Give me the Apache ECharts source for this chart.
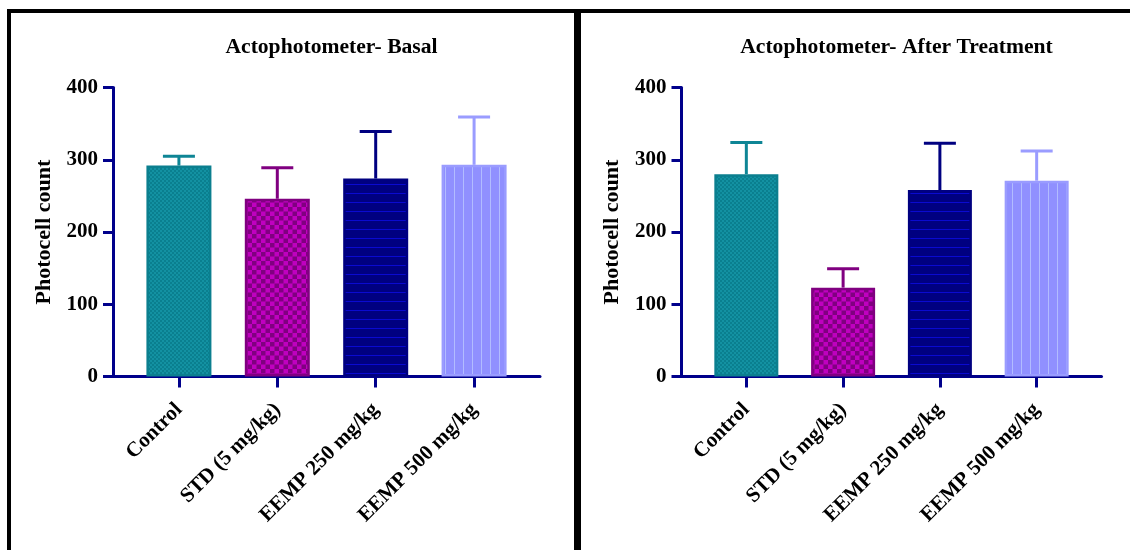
<!DOCTYPE html>
<html>
<head>
<meta charset="utf-8">
<script src="https://cdn.jsdelivr.net/npm/echarts@6/dist/echarts.min.js"></script>
<style>
html,body{margin:0;padding:0;background:#fff;}
#chart{width:1130px;height:550px;}
</style>
</head>
<body>
<div id="chart"></div>
<script>
// ---- data ----
const categories = ['Control', 'STD (5 mg/kg)', 'EEMP 250 mg/kg', 'EEMP 500 mg/kg'];
const basalMean = [292, 246, 274, 293];
const basalSD = [13, 43, 65, 66];
const afterMean = [280, 123, 258, 271];
const afterSD = [44, 26, 65, 41];
const titles = ['Actophotometer- Basal', 'Actophotometer- After Treatment'];
const yAxisName = 'Photocell count';
const yMin = 0, yMax = 400, yStep = 100;

// ---- patterns ----
function makeCanvas(w, h, draw) {
  const c = document.createElement('canvas');
  c.width = w; c.height = h;
  draw(c.getContext('2d'));
  return c;
}
const tealPat = makeCanvas(4, 4, g => {
  g.fillStyle = '#1391a2'; g.fillRect(0, 0, 4, 4);
  g.fillStyle = '#0a7f8f'; g.fillRect(0, 0, 2, 2); g.fillRect(2, 2, 2, 2);
});
const magPat = makeCanvas(9, 9, g => {
  g.fillStyle = '#c000c0'; g.fillRect(0, 0, 9, 9);
  g.fillStyle = '#800080'; g.fillRect(0, 0, 4.5, 4.5); g.fillRect(4.5, 4.5, 4.5, 4.5);
});
const navyPat = makeCanvas(4, 9, g => {
  g.fillStyle = '#000080'; g.fillRect(0, 0, 4, 9);
  g.fillStyle = '#0a0ad0'; g.fillRect(0, 4, 4, 1);
});
const periPat = makeCanvas(9, 4, g => {
  g.fillStyle = '#9090ff'; g.fillRect(0, 0, 9, 4);
  g.fillStyle = '#b2bcff'; g.fillRect(4, 0, 1, 4);
});
const fills = [tealPat, magPat, navyPat, periPat];
const borders = ['#0b7f8f', '#800080', '#000080', '#9a9cff'];
const errColors = ['#0e8595', '#800080', '#000080', '#9a9cff'];

const axisColor = '#00008b';
const font = 'Liberation Serif';

const grids = [
  { left: 113, top: 87.5, width: 427, height: 289 },
  { left: 681.5, top: 87.5, width: 420, height: 289 }
];
const barWidths = [65, 64];

function barData(means) {
  return means.map((v, i) => ({
    value: [i, v],
    itemStyle: {
      color: { image: fills[i], repeat: 'repeat' },
      borderColor: borders[i],
      borderWidth: 2.5
    }
  }));
}
function errData(means, sds) {
  return means.map((v, i) => [i, v, sds[i]]);
}
function errRender(params, api) {
  const x = api.value(0), m = api.value(1), e = api.value(2);
  const p0 = api.coord([x, m]);
  const p1 = api.coord([x, m + e]);
  const hw = 16;
  const col = errColors[params.dataIndex];
  return {
    type: 'group',
    children: [
      { type: 'line', shape: { x1: p0[0], y1: p0[1], x2: p1[0], y2: p1[1] }, style: { stroke: col, lineWidth: 3 } },
      { type: 'line', shape: { x1: p1[0] - hw, y1: p1[1], x2: p1[0] + hw, y2: p1[1] }, style: { stroke: col, lineWidth: 3 } }
    ]
  };
}

const xAxes = [0, 1].map(k => ({
  type: 'value', gridIndex: k, min: -0.67, max: 3.67,
  splitLine: { show: false },
  axisLine: { show: true, onZero: false, lineStyle: { color: axisColor, width: 3 } },
  axisTick: { show: true, customValues: [0, 1, 2, 3], length: 11, lineStyle: { color: axisColor, width: 3 } },
  axisLabel: {
    customValues: [0, 1, 2, 3],
    formatter: v => categories[Math.round(v)],
    rotate: 45, margin: 30,
    color: '#000', fontFamily: font, fontWeight: 'bold', fontSize: 21
  }
}));
const yAxes = [0, 1].map(k => ({
  type: 'value', gridIndex: k, min: yMin, max: yMax, interval: yStep,
  name: yAxisName, nameLocation: 'middle', nameGap: 58,
  nameTextStyle: { color: '#000', fontFamily: font, fontWeight: 'bold', fontSize: 22 },
  splitLine: { show: false },
  axisLine: { show: true, onZero: false, lineStyle: { color: axisColor, width: 3 } },
  axisTick: { show: true, length: 10, lineStyle: { color: axisColor, width: 3 } },
  axisLabel: { margin: 15, color: '#000', fontFamily: font, fontWeight: 'bold', fontSize: 21 }
}));

const chart = echarts.init(document.getElementById('chart'), null, { renderer: 'canvas' });
chart.setOption({
  animation: false,
  backgroundColor: '#fff',
  title: titles.map((t, k) => ({
    text: t,
    left: grids[k].left + grids[k].width / 2,
    textAlign: 'center',
    top: 31,
    textStyle: { color: '#000', fontFamily: font, fontWeight: 'bold', fontSize: 21.6 }
  })),
  grid: grids,
  xAxis: xAxes,
  yAxis: yAxes,
  graphic: [
    { type: 'rect', shape: { x: 7, y: 9, width: 1123, height: 4 }, style: { fill: '#000' } },
    { type: 'rect', shape: { x: 7, y: 9, width: 4, height: 541 }, style: { fill: '#000' } },
    { type: 'rect', shape: { x: 574, y: 9, width: 7, height: 541 }, style: { fill: '#000' } }
  ],
  series: [
    { type: 'custom', xAxisIndex: 0, yAxisIndex: 0, renderItem: errRender, data: errData(basalMean, basalSD), z: 1 },
    { type: 'bar', xAxisIndex: 0, yAxisIndex: 0, barWidth: barWidths[0], data: barData(basalMean), z: 2 },
    { type: 'custom', xAxisIndex: 1, yAxisIndex: 1, renderItem: errRender, data: errData(afterMean, afterSD), z: 1 },
    { type: 'bar', xAxisIndex: 1, yAxisIndex: 1, barWidth: barWidths[1], data: barData(afterMean), z: 2 }
  ]
});
</script>
</body>
</html>
